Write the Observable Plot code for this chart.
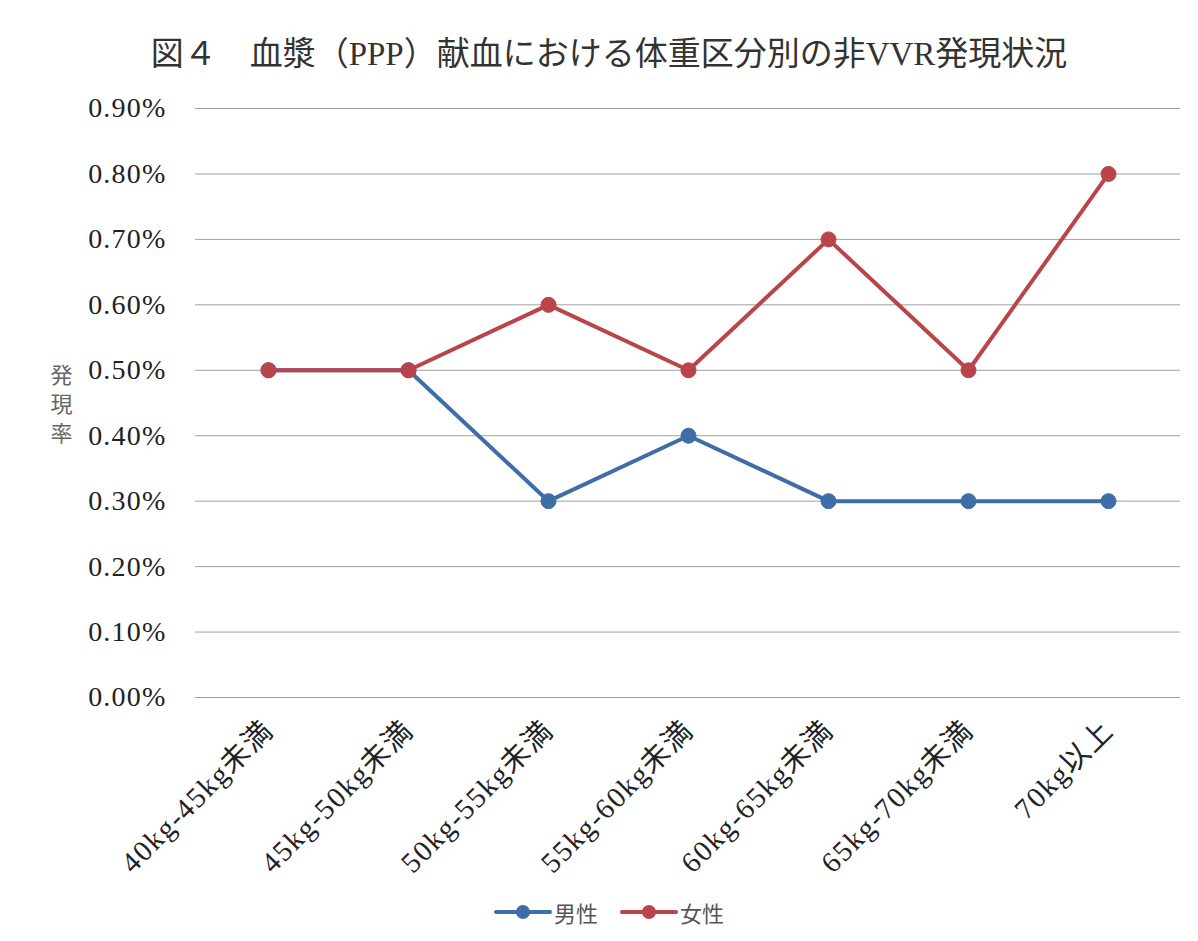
<!DOCTYPE html>
<html>
<head>
<meta charset="utf-8">
<script src="https://cdn.jsdelivr.net/npm/d3@7"></script>
<script src="https://cdn.jsdelivr.net/npm/@observablehq/plot@0.6"></script>
<style>
  body { margin: 0; background: #fff; }
  #wrap { position: relative; width: 1198px; height: 941px; background: #fff; overflow: hidden; }
  #title { position: absolute; left: 0; top: 0; width: 1198px; height: 80px; box-sizing: border-box; padding-top: 38px; padding-left: 20px;
    text-align: center; font-family: "Liberation Serif", "Noto Sans CJK JP", serif; font-size: 33px; color: #333; line-height: 1; }
  #chart { position: absolute; left: 0; top: 80px; }
  #legend { position: absolute; left: 0; top: 896px; width: 1198px; height: 32px; display: flex; justify-content: center; align-items: center; gap: 22px;
    font-family: "Noto Sans CJK JP", sans-serif; font-size: 22px; color: #555; padding-left: 20px; box-sizing: border-box; }
  .item { display: flex; align-items: center; gap: 2px; }
  #chart g[aria-label="y-axis tick label"] text { letter-spacing: 1.2px; }
  #chart g[aria-label="x-axis tick label"] text { letter-spacing: 1.6px; }
</style>
</head>
<body>
<div id="wrap">
  <div id="title">図４　血漿（PPP）献血における体重区分別の非VVR発現状況</div>
  <div id="chart"></div>
  <div id="legend"></div>
</div>
<script>
const categories = ["40kg-45kg未満", "45kg-50kg未満", "50kg-55kg未満", "55kg-60kg未満", "60kg-65kg未満", "65kg-70kg未満", "70kg以上"];
const seriesNames = ["男性", "女性"];
const maleValues = [0.005, 0.005, 0.003, 0.004, 0.003, 0.003, 0.003];
const femaleValues = [0.005, 0.005, 0.006, 0.005, 0.007, 0.005, 0.008];
const yTicks = [0, 0.001, 0.002, 0.003, 0.004, 0.005, 0.006, 0.007, 0.008, 0.009];
const colors = ["#3F6DA7", "#B9454A"];
const yAxisTitle = "発\n現\n率";

const data = [];
categories.forEach((c, i) => {
  data.push({cat: c, series: seriesNames[0], value: maleValues[i]});
});
categories.forEach((c, i) => {
  data.push({cat: c, series: seriesNames[1], value: femaleValues[i]});
});

const serif = "'Liberation Serif', 'Noto Sans CJK JP', serif";

const chart = Plot.plot({
  width: 1198,
  height: 810,
  marginTop: 28,
  marginBottom: 193,
  marginLeft: 195,
  marginRight: 18,
  style: {fontFamily: serif, fontSize: "28px", color: "#222", background: "transparent"},
  x: {type: "point", domain: categories, padding: 0.5, label: null},
  y: {domain: [0, 0.009], label: null},
  color: {domain: seriesNames, range: colors},
  marks: [
    Plot.gridY(yTicks, {stroke: "#a0a0a0", strokeOpacity: 1, strokeWidth: 1}),
    Plot.axisY(yTicks, {tickSize: 0, tickPadding: 29, tickFormat: d => (d * 100).toFixed(2) + "%", fontSize: 28, fill: "#222", label: null}),
    Plot.axisX({tickSize: 0, tickRotate: -45, tickPadding: 28, fontSize: 29, fill: "#222", label: null}),
    Plot.text([yAxisTitle], {frameAnchor: "left", dx: -145, dy: 0, text: d => d, fontFamily: "'Noto Sans CJK JP', sans-serif", fontSize: 22, fill: "#666", lineHeight: 1.32}),
    Plot.line(data, {x: "cat", y: "value", z: "series", stroke: "series", strokeWidth: 4, strokeLinejoin: "round", strokeLinecap: "round"}),
    Plot.dot(data, {x: "cat", y: "value", fill: "series", r: 7.5, stroke: "series", strokeWidth: 1})
  ]
});
document.getElementById("chart").appendChild(chart);

const legend = document.getElementById("legend");
seriesNames.forEach((name, i) => {
  const item = document.createElement("div");
  item.className = "item";
  item.innerHTML = `<svg width="58" height="20"><line x1="2" y1="10" x2="56" y2="10" stroke="${colors[i]}" stroke-width="4" stroke-linecap="round"/><circle cx="29" cy="10" r="7" fill="${colors[i]}"/></svg><span>${name}</span>`;
  legend.appendChild(item);
});
</script>
</body>
</html>
